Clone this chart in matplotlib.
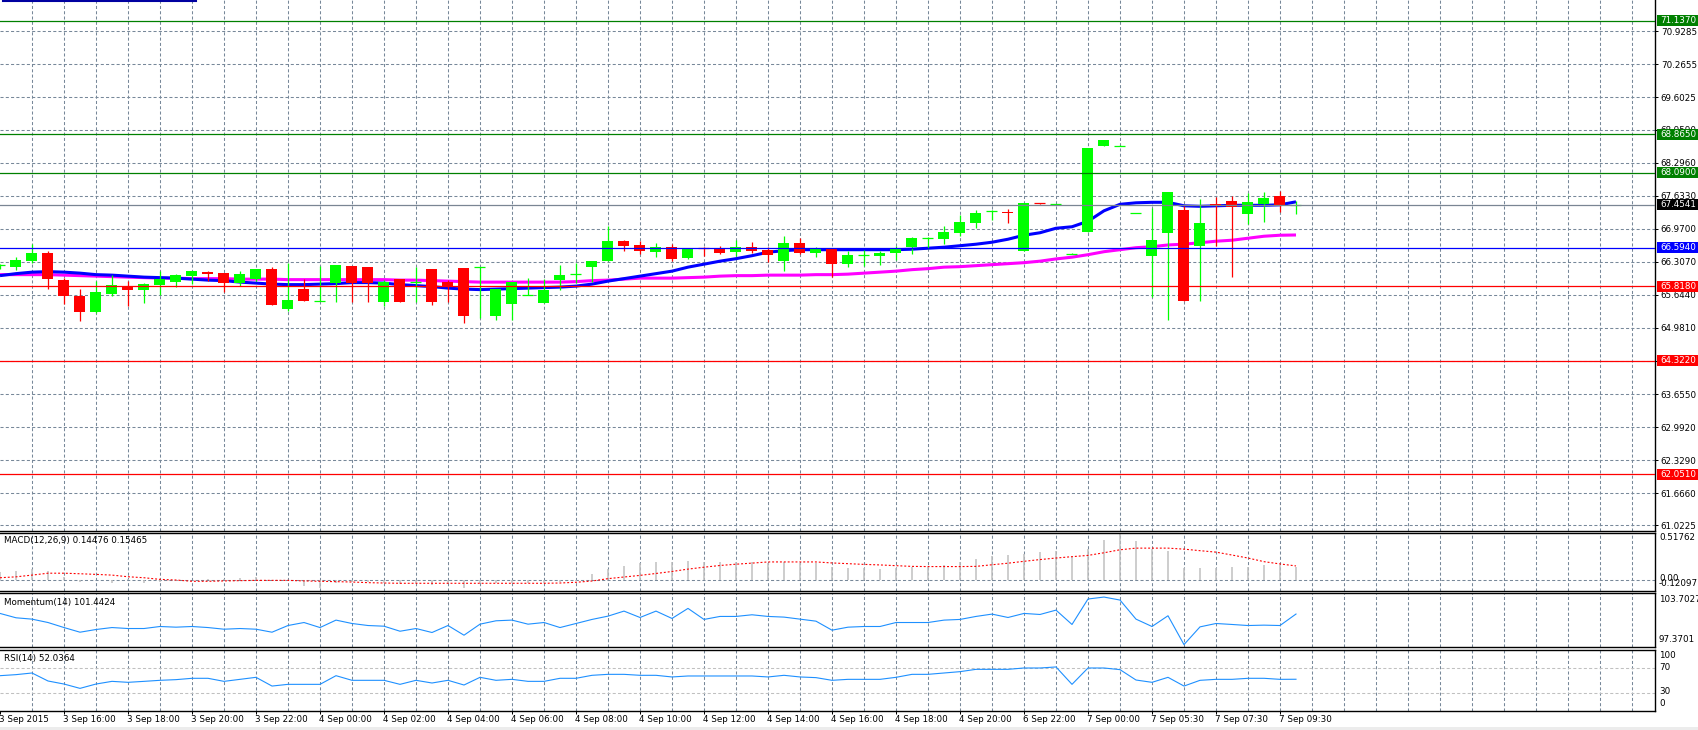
"""
Recreation of an MT4-style 30-minute chart (3-7 Sep 2015) with MA, MACD,
Momentum and RSI sub-windows.
"""
import numpy as np
import matplotlib
matplotlib.use("Agg")
import matplotlib.pyplot as plt
from matplotlib.patches import Rectangle
from matplotlib.lines import Line2D

plt.rcParams["font.family"] = ["DejaVu Sans"]
plt.rcParams["lines.scale_dashes"] = False

W, H = 1699, 730
PANE_RIGHT = 1655          # px, right border of the chart area
BAR_PX = 16                # px per bar

BULL = "#00ff00"
BEAR = "#ff0000"
GRID = "#778899"
MA_FAST_COL = "#0000ff"
MA_SLOW_COL = "#ff00ff"
IND_COL = "#1e90ff"
HIST_COL = "#c0c0c0"
RES_COL = "#008000"
SUP_COL = "#ff0000"
PIVOT_COL = "#0000ff"
BID_COL = "#7a8593"
FS = 6.3

# ── data ──────────────────────────────────────────
OPEN = [66.23, 66.20, 66.33, 66.49, 65.95, 65.63, 65.30, 65.67, 65.82, 65.74,
        65.84, 65.90, 66.03, 66.11, 66.09, 65.88, 65.97, 66.17, 65.355, 65.77,
        65.52, 65.89, 66.23, 66.21, 65.51, 65.97, 65.905, 66.17, 65.91, 66.19,
        66.195, 65.215, 65.455, 65.645, 65.49, 65.95, 66.05, 66.21, 66.33, 66.73,
        66.65, 66.51, 66.61, 66.39, 66.59, 66.57, 66.51, 66.61, 66.55, 66.33,
        66.69, 66.49, 66.57, 66.27, 66.44, 66.43, 66.49, 66.61, 66.79, 66.77,
        66.89, 67.09, 67.33, 67.31, 66.525, 67.48, 67.47, 66.47, 66.906, 68.631,
        68.636, 67.292, 66.425, 66.886, 67.341, 66.626, 67.46, 67.521, 67.268, 67.468,
        67.622, 67.45]
HIGH = [66.27, 66.40, 66.67, 66.53, 65.99, 65.77, 65.93, 66.05, 65.92, 65.88,
        66.12, 66.07, 66.13, 66.13, 66.09, 66.13, 66.17, 66.21, 66.29, 65.97,
        66.23, 66.25, 66.23, 66.21, 65.95, 65.97, 66.21, 66.17, 65.95, 66.19,
        66.20, 65.77, 65.91, 65.99, 65.97, 66.25, 66.28, 66.33, 67.03, 66.75,
        66.73, 66.69, 66.67, 66.59, 66.61, 66.63, 66.75, 66.71, 66.61, 66.83,
        66.79, 66.61, 66.57, 66.53, 66.55, 66.53, 66.63, 66.81, 66.81, 67.03,
        67.25, 67.35, 67.35, 67.36, 67.481, 67.48, 67.475, 66.475, 68.584, 68.758,
        68.64, 67.295, 67.381, 67.702, 67.421, 67.561, 67.615, 67.635, 67.682, 67.702,
        67.722, 67.52]
LOW = [66.17, 66.15, 66.28, 65.77, 65.47, 65.13, 65.28, 65.62, 65.42, 65.49,
       65.65, 65.80, 65.87, 65.93, 65.71, 65.83, 65.92, 65.435, 65.33, 65.53,
       65.52, 65.51, 65.51, 65.51, 65.42, 65.51, 65.51, 65.45, 65.51, 65.09,
       65.19, 65.15, 65.15, 65.645, 65.49, 65.75, 65.88, 65.91, 66.33, 66.52,
       66.47, 66.41, 66.33, 66.37, 66.43, 66.47, 66.43, 66.49, 66.31, 66.13,
       66.47, 66.41, 66.01, 66.21, 66.23, 66.25, 66.35, 66.47, 66.57, 66.67,
       66.83, 66.99, 67.15, 67.09, 66.525, 67.47, 67.47, 66.47, 66.906, 68.631,
       68.636, 67.29, 65.603, 65.135, 65.523, 65.523, 66.626, 66.004, 67.067, 67.107,
       67.308, 67.27]
CLOSE = [66.24, 66.35, 66.49, 65.97, 65.62, 65.30, 65.71, 65.85, 65.74, 65.87,
         65.97, 66.05, 66.13, 66.07, 65.88, 66.07, 66.17, 65.435, 65.55, 65.53,
         65.525, 66.25, 65.89, 65.89, 65.91, 65.51, 65.915, 65.51, 65.83, 65.23,
         66.20, 65.77, 65.91, 65.65, 65.75, 66.05, 66.06, 66.33, 66.73, 66.63,
         66.53, 66.61, 66.37, 66.59, 66.585, 66.49, 66.61, 66.53, 66.45, 66.69,
         66.49, 66.59, 66.27, 66.45, 66.445, 66.49, 66.59, 66.79, 66.795, 66.91,
         67.11, 67.29, 67.335, 67.29, 67.481, 67.475, 67.475, 66.472, 68.584, 68.758,
         68.638, 67.294, 66.739, 67.702, 65.523, 67.080, 67.44, 67.408, 67.501, 67.582,
         67.441, 67.4541]

MA_FAST = [66.03, 66.07, 66.10, 66.11, 66.10, 66.08, 66.05, 66.04, 66.02, 66.00,
           65.99, 65.98, 65.96, 65.94, 65.93, 65.90, 65.88, 65.86, 65.85, 65.85,
           65.86, 65.87, 65.89, 65.89, 65.88, 65.85, 65.83, 65.81, 65.78, 65.76,
           65.75, 65.76, 65.77, 65.78, 65.79, 65.80, 65.82, 65.86, 65.92, 65.97,
           66.02, 66.07, 66.12, 66.20, 66.26, 66.32, 66.37, 66.43, 66.50, 66.53,
           66.55, 66.55, 66.55, 66.55, 66.55, 66.55, 66.55, 66.56, 66.58, 66.60,
           66.63, 66.66, 66.70, 66.76, 66.84, 66.89, 66.98, 67.01, 67.12, 67.33,
           67.46, 67.49, 67.50, 67.50, 67.43, 67.42, 67.43, 67.44, 67.44, 67.44,
           67.45, 67.51]
MA_SLOW = [66.05, 66.05, 66.05, 66.05, 66.04, 66.03, 66.02, 66.01, 66.00, 65.99,
           65.98, 65.98, 65.97, 65.97, 65.97, 65.96, 65.96, 65.96, 65.95, 65.95,
           65.95, 65.95, 65.95, 65.95, 65.95, 65.94, 65.94, 65.93, 65.92, 65.91,
           65.90, 65.90, 65.90, 65.90, 65.90, 65.90, 65.91, 65.93, 65.94, 65.96,
           65.98, 65.98, 65.98, 65.99, 66.00, 66.02, 66.03, 66.03, 66.04, 66.04,
           66.04, 66.05, 66.05, 66.06, 66.08, 66.10, 66.12, 66.15, 66.17, 66.20,
           66.21, 66.23, 66.25, 66.27, 66.29, 66.32, 66.365, 66.40, 66.45, 66.51,
           66.55, 66.59, 66.61, 66.645, 66.66, 66.69, 66.72, 66.74, 66.78, 66.82,
           66.84, 66.845]

MACD_MAIN = [0.087, 0.098, 0.116, 0.094, 0.036, -0.022, 0.004, -0.036, 0.014, -0.036,
             -0.022, -0.007, 0.004, 0.014, 0.007, 0.022, 0.029, -0.004, -0.014, -0.065,
             -0.087, -0.033, -0.022, -0.022, -0.029, -0.043, -0.036, -0.051, -0.036, -0.083,
             -0.033, -0.029, -0.029, -0.029, -0.033, -0.022, -0.011, 0.061, 0.123, 0.159,
             0.184, 0.195, 0.195, 0.206, 0.202, 0.202, 0.195, 0.195, 0.188, 0.195,
             0.184, 0.184, 0.148, 0.137, 0.127, 0.116, 0.127, 0.141, 0.148, 0.170,
             0.195, 0.228, 0.260, 0.271, 0.289, 0.311, 0.322, 0.249, 0.343, 0.441,
             0.5176, 0.430, 0.340, 0.322, 0.137, 0.127, 0.137, 0.141, 0.148, 0.163,
             0.170, 0.145]
MACD_SIGNAL = [0.025, 0.035, 0.054, 0.075, 0.075, 0.069, 0.062, 0.054, 0.036, 0.025,
               0.007, 0.000, -0.014, -0.014, -0.010, -0.007, -0.004, -0.004, -0.004, -0.010,
               -0.014, -0.018, -0.022, -0.029, -0.033, -0.036, -0.036, -0.036, -0.036, -0.036,
               -0.036, -0.036, -0.036, -0.036, -0.036, -0.033, -0.025, -0.011, 0.015, 0.033,
               0.051, 0.072, 0.094, 0.120, 0.141, 0.160, 0.174, 0.186, 0.199, 0.199,
               0.199, 0.199, 0.188, 0.180, 0.172, 0.166, 0.158, 0.150, 0.148, 0.148,
               0.148, 0.150, 0.168, 0.185, 0.206, 0.225, 0.242, 0.257, 0.271, 0.300,
               0.333, 0.351, 0.351, 0.351, 0.340, 0.323, 0.307, 0.275, 0.242, 0.202,
               0.177, 0.155]
MOMENTUM = [101.52, 100.94, 100.76, 100.31, 99.64, 99.02, 99.38, 99.64, 99.51, 99.51,
            99.78, 99.69, 99.78, 99.64, 99.42, 99.51, 99.42, 99.02, 99.91, 100.31,
            99.64, 100.63, 100.18, 99.91, 99.82, 99.15, 99.51, 98.98, 99.91, 98.62,
            100.09, 100.54, 100.63, 100.09, 100.31, 99.64, 100.18, 100.72, 101.16, 101.83,
            100.98, 101.83, 100.85, 102.19, 100.72, 101.12, 101.12, 101.34, 101.12, 101.03,
            100.76, 100.49, 99.29, 99.69, 99.78, 99.78, 100.31, 100.31, 100.31, 100.63,
            100.72, 101.12, 101.43, 100.98, 101.52, 101.38, 101.96, 100.05, 103.44, 103.70,
            103.30, 100.76, 99.78, 101.21, 97.37, 99.73, 100.18, 100.05, 99.91, 99.96,
            99.91, 101.44]
RSI = [57.9, 59.6, 62.3, 49.2, 44.2, 37.1, 44.2, 48.6, 47.0, 48.6,
       50.3, 51.4, 53.6, 53.6, 48.6, 51.9, 55.2, 40.9, 43.7, 43.7,
       43.7, 57.9, 50.3, 50.3, 50.3, 43.7, 50.3, 45.9, 50.3, 42.6,
       55.2, 50.3, 51.9, 48.6, 48.6, 53.6, 53.6, 58.5, 60.1, 60.1,
       58.5, 58.5, 55.8, 57.4, 57.4, 57.4, 57.4, 57.4, 55.8, 58.5,
       55.8, 54.7, 50.3, 51.9, 51.9, 51.9, 55.2, 60.1, 60.1, 62.3,
       64.5, 68.3, 68.3, 68.3, 70.5, 70.5, 72.2, 43.7, 70.5, 70.5,
       67.8, 50.8, 47.0, 55.2, 40.9, 50.3, 51.9, 51.9, 53.6, 53.6,
       51.9, 52.04]

TIME_LABELS = ["3 Sep 2015", "3 Sep 16:00", "3 Sep 18:00", "3 Sep 20:00", "3 Sep 22:00",
               "4 Sep 00:00", "4 Sep 02:00", "4 Sep 04:00", "4 Sep 06:00", "4 Sep 08:00",
               "4 Sep 10:00", "4 Sep 12:00", "4 Sep 14:00", "4 Sep 16:00", "4 Sep 18:00",
               "4 Sep 20:00", "6 Sep 22:00", "7 Sep 00:00", "7 Sep 05:30", "7 Sep 07:30",
               "7 Sep 09:30"]
LABEL_EVERY = 4            # bars between time labels

PRICE_TICKS = [70.9285, 70.2655, 69.6025, 68.9590, 68.2960, 67.6330, 66.9700,
               66.3070, 65.6440, 64.9810, 64.3180, 63.6550, 62.9920, 62.3290,
               61.6660, 61.0225]
RESISTANCE = [71.1370, 68.8650, 68.0900]
SUPPORT = [65.8180, 64.3220, 62.0510]
PIVOT = 66.5940
BID = 67.4541

MACD_TITLE = "MACD(12,26,9) 0.14476 0.15465"
MOM_TITLE = "Momentum(14) 101.4424"
RSI_TITLE = "RSI(14) 52.0364"

# price <-> pixel mapping of the main window
PX_PER_UNIT = 49.88
PRICE_AT_TOP = 71.556

n = len(CLOSE)
idx = np.arange(n)
xmax = PANE_RIGHT / BAR_PX

fig = plt.figure(figsize=(W / 100, H / 100), dpi=100, facecolor="white")


def pane(top, bottom):
    ax = fig.add_axes([0, 1 - bottom / H, PANE_RIGHT / W, (bottom - top) / H])
    ax.set_xlim(0, xmax)
    ax.set_xticks([])
    ax.set_yticks([])
    ax.spines["left"].set_visible(False)
    for s in ("top", "right", "bottom"):
        ax.spines[s].set_color("black")
        ax.spines[s].set_linewidth(1.0)
    ax.set_facecolor("white")
    for k in range(1, int(xmax // 2) + 1):
        ax.axvline(2 * k, color=GRID, lw=0.75, ls=(0, (2.2, 1.6)), zorder=0.5)
    return ax


def ptext(x, y, s, **kw):
    kw.setdefault("fontsize", FS)
    kw.setdefault("va", "center")
    kw.setdefault("ha", "left")
    return fig.text(x / W, 1 - y / H, s, **kw)


def price_y(p):
    return (PRICE_AT_TOP - p) * PX_PER_UNIT


# ── main window ───────────────────────────────────
MAIN_BOTTOM = 531
ax = pane(0, MAIN_BOTTOM)
ax.spines["top"].set_visible(False)
ax.set_ylim(PRICE_AT_TOP - MAIN_BOTTOM / PX_PER_UNIT, PRICE_AT_TOP)

for p in PRICE_TICKS:
    ax.axhline(p, color=GRID, lw=0.75, ls=(0, (2.2, 1.6)), zorder=0.5)

ax.plot(idx, MA_SLOW, color=MA_SLOW_COL, lw=2.2, zorder=2, solid_capstyle="butt")
ax.plot(idx, MA_FAST, color=MA_FAST_COL, lw=2.2, zorder=2, solid_capstyle="butt")

o = np.array(OPEN)
c = np.array(CLOSE)
colors = np.where(c >= o, BULL, BEAR)
body_w = 11 / BAR_PX
ax.vlines(idx, LOW, HIGH, colors=colors, lw=0.9, zorder=3)
big = np.abs(c - o) >= 0.015
ax.bar(idx[big], np.abs(c - o)[big], bottom=np.minimum(o, c)[big], width=body_w,
       color=colors[big], linewidth=0, zorder=3.1)
ax.hlines(((o + c) / 2)[~big], idx[~big] - body_w / 2, idx[~big] + body_w / 2,
          colors=colors[~big], lw=0.9, zorder=3.1)

for p in RESISTANCE:
    ax.axhline(p, color=RES_COL, lw=0.9, zorder=4)
for p in SUPPORT:
    ax.axhline(p, color=SUP_COL, lw=0.9, zorder=4)
ax.axhline(PIVOT, color=PIVOT_COL, lw=0.9, zorder=4)
ax.axhline(BID, color=BID_COL, lw=0.9, zorder=4)

# right price scale
ax.yaxis.tick_right()
ax.set_yticks(PRICE_TICKS)
ax.set_yticklabels([f"{p:.4f}" for p in PRICE_TICKS])
ax.tick_params(axis="y", direction="out", length=2.2, width=0.72, pad=2.0,
               labelsize=FS, colors="black")
ptext(1661, -3.5, f"{PRICE_TICKS[0] + 0.663:.4f}")

# price boxes for the levels
boxes = [(p, RES_COL) for p in RESISTANCE] + [(p, SUP_COL) for p in SUPPORT] + \
        [(PIVOT, PIVOT_COL), (BID, "black")]
for p, col in boxes:
    y = price_y(p)
    fig.patches.append(Rectangle(((PANE_RIGHT + 2) / W, 1 - (y + 5.5) / H), 41 / W, 11 / H,
                                 transform=fig.transFigure, facecolor=col,
                                 edgecolor="none", zorder=5))
    ptext(PANE_RIGHT + 5, y, f"{p:.4f}", color="white", zorder=6)

# blue marks at the top-left corner
for x0, x1 in [(3, 99), (101, 196)]:
    fig.add_artist(Line2D([x0 / W, x1 / W], [1 - 0.8 / H] * 2, color="#0000a0", lw=1.5))

# ── MACD ──────────────────────────────────────────
ax_macd = pane(533, 591)
ax_macd.set_ylim(-0.12097, 0.51762)
ax_macd.axhline(0, color=GRID, lw=0.75, ls=(0, (2.2, 1.6)), zorder=0.5)
ax_macd.vlines(idx, 0, MACD_MAIN, colors=HIST_COL, lw=1.1, zorder=2)
ax_macd.plot(idx, MACD_SIGNAL, color="red", lw=0.8, ls=(0, (1.4, 1.4)), zorder=3)
ptext(4, 541, MACD_TITLE)
ptext(1659, 538, "0.51762")
ptext(1659, 578.5, "0.00")
ptext(1659, 584, "-0.12097")

# ── Momentum ──────────────────────────────────────
ax_mom = pane(593, 647)
ax_mom.set_ylim(97.05, 104.24)
ax_mom.plot(idx, MOMENTUM, color=IND_COL, lw=0.8, zorder=3)
ptext(4, 602.5, MOM_TITLE)
ptext(1659, 600, "103.7027")
ptext(1659, 640, "97.3701")

# ── RSI ───────────────────────────────────────────
ax_rsi = pane(650, 711)
ax_rsi.set_ylim(0, 100)
for lvl in (30, 70):
    ax_rsi.axhline(lvl, color="#c0c0c0", lw=0.75, ls=(0, (2.2, 1.6)), zorder=0.6)
ax_rsi.plot(idx, RSI, color=IND_COL, lw=0.8, zorder=3)
ptext(4, 658, RSI_TITLE)
for val, yy in [("100", 656), ("70", 668), ("30", 692), ("0", 703.5)]:
    ptext(1659, yy, val)

# time axis
label_pos = np.arange(len(TIME_LABELS)) * LABEL_EVERY
ax_rsi.set_xticks(label_pos)
ax_rsi.set_xticklabels([])
ax_rsi.tick_params(axis="x", direction="out", length=2.2, width=0.72)
for pos, lab in zip(label_pos, TIME_LABELS):
    ptext(pos * BAR_PX - (1.5 if pos == 0 else 0.8), 719.5, lab)

fig.patches.append(Rectangle((0, 0), 1, 3 / H, transform=fig.transFigure,
                             facecolor="#ececec", edgecolor="none"))

fig.savefig("out.png", dpi=100, facecolor="white")
